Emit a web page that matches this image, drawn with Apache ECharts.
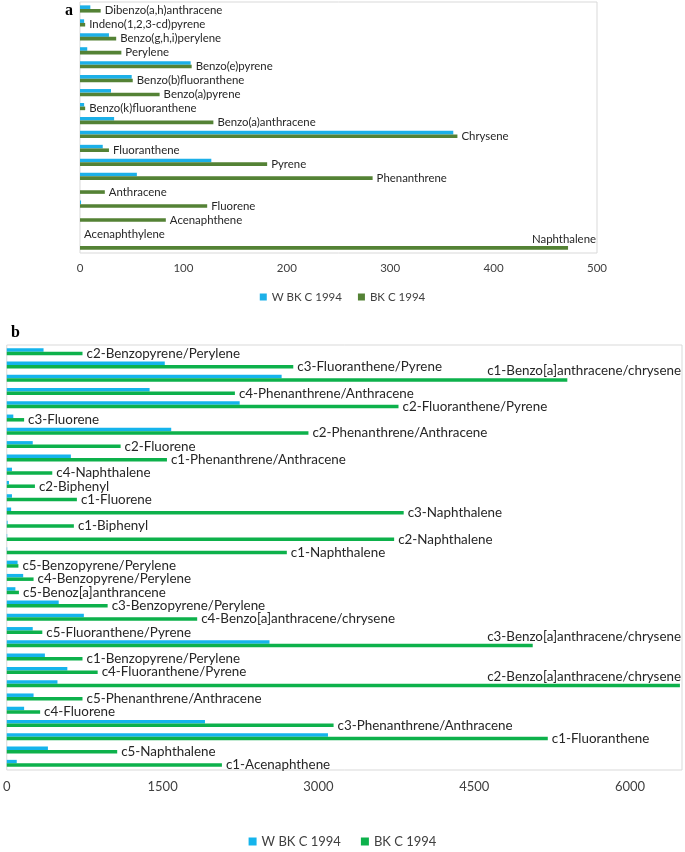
<!DOCTYPE html>
<html>
<head>
<meta charset="utf-8">
<script src="https://cdn.jsdelivr.net/npm/echarts@6/dist/echarts.min.js"></script>
<style>
html,body{margin:0;padding:0;background:#fff;}
#a{position:absolute;left:0;top:0;width:685px;height:320px;}
#b{position:absolute;left:0;top:320px;width:685px;height:532px;}
</style>
</head>
<body>
<div id="a"></div>
<div id="b"></div>
<script>
// Panel a
const catsA = ['Dibenzo(a,h)anthracene','Indeno(1,2,3-cd)pyrene','Benzo(g,h,i)perylene','Perylene','Benzo(e)pyrene','Benzo(b)fluoranthene','Benzo(a)pyrene','Benzo(k)fluoranthene','Benzo(a)anthracene','Chrysene','Fluoranthene','Pyrene','Phenanthrene','Anthracene','Fluorene','Acenaphthene','Acenaphthylene','Naphthalene'];
const wbkA = [10, 4, 28, 7, 107, 50, 30, 4, 33, 361, 22, 127, 55, 0, 1, 0, 0, 0];
const bkA  = [20, 5, 35, 40, 108, 51, 77, 5, 129, 365, 28, 181, 283, 24, 123, 83, 0, 472];
const ticksA = {min: 0, max: 500, interval: 100};

// Panel b
const catsB = ['c2-Benzopyrene/Perylene','c3-Fluoranthene/Pyrene','c1-Benzo[a]anthracene/chrysene','c4-Phenanthrene/Anthracene','c2-Fluoranthene/Pyrene','c3-Fluorene','c2-Phenanthrene/Anthracene','c2-Fluorene','c1-Phenanthrene/Anthracene','c4-Naphthalene','c2-Biphenyl','c1-Fluorene','c3-Naphthalene','c1-Biphenyl','c2-Naphthalene','c1-Naphthalene','c5-Benzopyrene/Perylene','c4-Benzopyrene/Perylene','c5-Benoz[a]anthrancene','c3-Benzopyrene/Perylene','c4-Benzo[a]anthracene/chrysene','c5-Fluoranthene/Pyrene','c3-Benzo[a]anthracene/chrysene','c1-Benzopyrene/Perylene','c4-Fluoranthene/Pyrene','c2-Benzo[a]anthracene/chrysene','c5-Phenanthrene/Anthracene','c4-Fluorene','c3-Phenanthrene/Anthracene','c1-Fluoranthene','c5-Naphthalene','c1-Acenaphthene'];
const wbkB = [354, 1521, 2646, 1375, 2242, 63, 1583, 250, 617, 50, 21, 50, 42, 8, 4, 4, 104, 158, 83, 500, 742, 250, 2529, 367, 583, 488, 258, 167, 1908, 3092, 396, 96];
const bkB  = [729, 2758, 5396, 2196, 3771, 167, 2904, 1096, 1542, 438, 271, 675, 3821, 646, 3729, 2696, 112, 258, 117, 971, 1833, 342, 5063, 729, 875, 6480, 729, 321, 3146, 5208, 1063, 2071];
const ticksB = {min: 0, max: 6500, interval: 1500};

const seriesNames = ['W BK C 1994', 'BK C 1994'];
const FONT = 'Lato';

function makeOption(cfg) {
  const gridRight = cfg.grid.right;
  return {
    animation: false,
    textStyle: {fontFamily: FONT},
    title: {
      text: cfg.letter, left: cfg.letterPos[0], top: cfg.letterPos[1],
      textStyle: {fontFamily: 'Liberation Serif', fontWeight: 'bold', fontSize: 16, color: '#000'}
    },
    legend: {
      data: seriesNames.map(n => ({name: n, icon: 'rect'})),
      top: cfg.legendTop, left: 'center',
      itemWidth: cfg.legendIcon, itemHeight: cfg.legendIcon, itemGap: cfg.legendGap,
      textStyle: {fontFamily: FONT, fontSize: cfg.legendFont, color: '#404040'}
    },
    grid: Object.assign({show: true, borderColor: '#d9d9d9', borderWidth: 1, backgroundColor: '#fff'}, cfg.grid),
    xAxis: {
      type: 'value', min: cfg.ticks.min, max: cfg.ticks.max, interval: cfg.ticks.interval,
      axisLine: {show: false}, axisTick: {show: false}, splitLine: {show: false},
      axisLabel: {
        fontFamily: FONT, fontSize: cfg.tickFont, color: '#404040', margin: cfg.tickMargin,
        formatter: v => (v % cfg.ticks.interval === 0 ? String(v) : '')
      }
    },
    yAxis: {
      type: 'category', data: cfg.cats, inverse: true,
      axisLine: {show: false}, axisTick: {show: false}, axisLabel: {show: false}, splitLine: {show: false}
    },
    series: [
      {
        name: seriesNames[0], type: 'bar', data: cfg.w, barWidth: cfg.barW, barGap: '0%',
        itemStyle: {color: cfg.colors[0]}
      },
      {
        name: seriesNames[1], type: 'bar', data: cfg.bk, barWidth: cfg.barW, barGap: '0%',
        itemStyle: {color: cfg.colors[1]},
        label: {
          show: true, position: 'right', distance: 4, offset: [0, -1],
          formatter: p => cfg.cats[p.dataIndex],
          fontFamily: FONT, fontSize: cfg.labelFont, color: '#262626'
        },
        labelLayout: function (p) {
          const plotRight = cfg.width - gridRight;
          if (p.labelRect.x + p.labelRect.width > plotRight + 4) {
            return {x: plotRight - 1, y: p.rect.y - cfg.labelFont * 0.55, align: 'right', verticalAlign: 'middle'};
          }
          return {};
        }
      }
    ]
  };
}

const chartA = echarts.init(document.getElementById('a'));
chartA.setOption(makeOption({
  width: 685, letter: 'a', letterPos: [60, -2],
  cats: catsA, w: wbkA, bk: bkA, ticks: ticksA,
  grid: {left: 80, right: 88, top: 2, bottom: 67},
  colors: ['#1CB0E8', '#548235'], barW: 3.6,
  tickFont: 11.5, tickMargin: 9, labelFont: 11.4,
  legendTop: 286, legendIcon: 7, legendGap: 16, legendFont: 11.5
}));

const chartB = echarts.init(document.getElementById('b'));
chartB.setOption(makeOption({
  width: 685, letter: 'b', letterPos: [6, 0],
  cats: catsB, w: wbkB, bk: bkB, ticks: ticksB,
  grid: {left: 5, right: 3, top: 25, bottom: 82},
  colors: ['#15B4EC', '#0DB14B'], barW: 3.5,
  tickFont: 13, tickMargin: 10, labelFont: 13.4,
  legendTop: 510, legendIcon: 8, legendGap: 20, legendFont: 13
}));
</script>
</body>
</html>
